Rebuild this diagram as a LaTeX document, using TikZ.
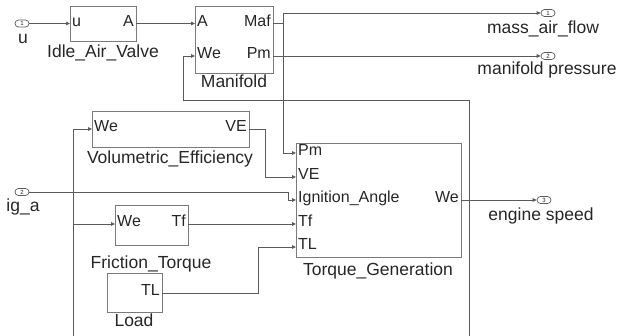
\documentclass[tikz,border=0pt]{standalone}
\usepackage{fontspec}
\setmainfont{Liberation Sans}
\usetikzlibrary{arrows.meta,calc}
\definecolor{ln}{HTML}{5A5A5A}
\definecolor{bx}{HTML}{7A7A7A}
\definecolor{tx}{HTML}{262626}
\begin{document}
\begin{tikzpicture}[x=1pt,y=-1pt,
 blk/.style={draw=bx, line width=0.9pt, inner sep=0pt, anchor=north west},
 lbl/.style={text=tx, font=\fontsize{17.5}{20}\selectfont, inner sep=0pt, anchor=mid},
 prt/.style={text=tx, font=\fontsize{16}{18}\selectfont, inner sep=0pt},
 sig/.style={draw=ln, line width=0.8pt},
 arr/.style={sig, -{Triangle[length=4pt,width=3.5pt]}},
 io/.style={draw=ln, line width=0.7pt, rounded corners=3.5pt, minimum width=14pt, minimum height=7pt, inner sep=0pt, font=\fontsize{6}{6}\selectfont, text=tx},
]
\useasboundingbox (0,0) rectangle (617,336);
% blocks
\node[blk, minimum width=66pt, minimum height=35pt] (iav) at (70,6) {};
\node[blk, minimum width=78pt, minimum height=67pt] (man) at (195,6) {};
\node[blk, minimum width=157pt, minimum height=36pt] (vol) at (92,111) {};
\node[blk, minimum width=73pt, minimum height=40pt] (fri) at (115,205) {};
\node[blk, minimum width=55pt, minimum height=39pt] (lod) at (107,273) {};
\node[blk, minimum width=165pt, minimum height=114pt] (tor) at (296,143) {};
% port coordinates
\coordinate (iav-i) at (70,23.5);   \coordinate (iav-o) at (136,23.5);
\coordinate (man-ia) at (195,23.5); \coordinate (man-iw) at (195,56);
\coordinate (man-om) at (273,23.5); \coordinate (man-op) at (273,56);
\coordinate (vol-i) at (92,129);    \coordinate (vol-o) at (249,129);
\coordinate (fri-i) at (115,224);   \coordinate (fri-o) at (188,224);
\coordinate (lod-o) at (162,293);
\coordinate (tor-i1) at (296,153);  \coordinate (tor-i2) at (296,177);
\coordinate (tor-i3) at (296,200);  \coordinate (tor-i4) at (296,224);
\coordinate (tor-i5) at (296,247);  \coordinate (tor-o) at (461,200);
% port labels
\node[prt, anchor=mid west] at (72,23.5) {u};
\node[prt, anchor=mid east] at (134,23.5) {A};
\node[prt, anchor=mid west] at (197,23.5) {A};
\node[prt, anchor=mid east] at (271,23.5) {Maf};
\node[prt, anchor=mid west] at (197,56) {We};
\node[prt, anchor=mid east] at (271,56) {Pm};
\node[prt, anchor=mid west] at (94,129) {We};
\node[prt, anchor=mid east] at (247,129) {VE};
\node[prt, anchor=mid west] at (117,224) {We};
\node[prt, anchor=mid east] at (186,224) {Tf};
\node[prt, anchor=mid east] at (160,293) {TL};
\node[prt, anchor=mid west] at (298,153) {Pm};
\node[prt, anchor=mid west] at (298,177) {VE};
\node[prt, anchor=mid west] at (298,200) {Ignition\_Angle};
\node[prt, anchor=mid west] at (298,224) {Tf};
\node[prt, anchor=mid west] at (298,247) {TL};
\node[prt, anchor=mid east] at (459,200) {We};
% block names
\node[lbl] (liav) at (103,55) {Idle\_Air\_Valve};
\node[lbl] (lman) at (234,85) {Manifold};
\node[lbl] (lvol) at (170,161) {Volumetric\_Efficiency};
\node[lbl] (lfri) at (151,266) {Friction\_Torque};
\node[lbl] (llod) at (134,324) {Load};
\node[lbl] (ltor) at (378,273) {Torque\_Generation};
% in/out ports
\node[io] (inu) at (22,23.5) {1};
\node[lbl] (linu) at (23,41) {u};
\node[io] (inig) at (22,192) {2};
\node[lbl] (linig) at (23,209) {ig\_a};
\node[io] (out1) at (548,13) {1};
\node[lbl] (lout1) at (543,31) {mass\_air\_flow};
\node[io] (out2) at (548,56) {2};
\node[lbl] (lout2) at (547,72) {manifold pressure};
\node[io] (out3) at (544,200) {3};
\node[lbl] (lout3) at (541,218) {engine speed};
% junction coordinates
\coordinate (jtop) at (283,13);
\coordinate (jfb) at (469,336);
\coordinate (jfl) at (73,336);
% connectors
\draw[arr] (inu.east) -- (iav-i);
\draw[arr] (iav-o) -- (man-ia);
\draw[sig] (man-om) -- (jtop |- man-om);
\draw[arr] (jtop) -- (out1.west);
\draw[arr] (jtop) -- (jtop |- tor-i1) -- (tor-i1);
\draw[arr] (man-op) -- (out2.west);
\draw[arr] (jfb) -- (469,100) -- (183,100) -- (183,56) -- (man-iw);
\draw[arr] (jfl) -- (jfl |- vol-i) -- (vol-i);
\draw[arr] (jfl |- fri-i) -- (fri-i);
\draw[arr] (vol-o) -- (265,129) -- (265,177) -- (tor-i2);
\draw[arr] (inig.east) -- (288,192) -- (288,200) -- (tor-i3);
\draw[arr] (fri-o) -- (tor-i4);
\draw[arr] (lod-o) -- (258,293) -- (258,247) -- (tor-i5);
\draw[arr] (tor-o) -- (out3.west);
\end{tikzpicture}
\end{document}
